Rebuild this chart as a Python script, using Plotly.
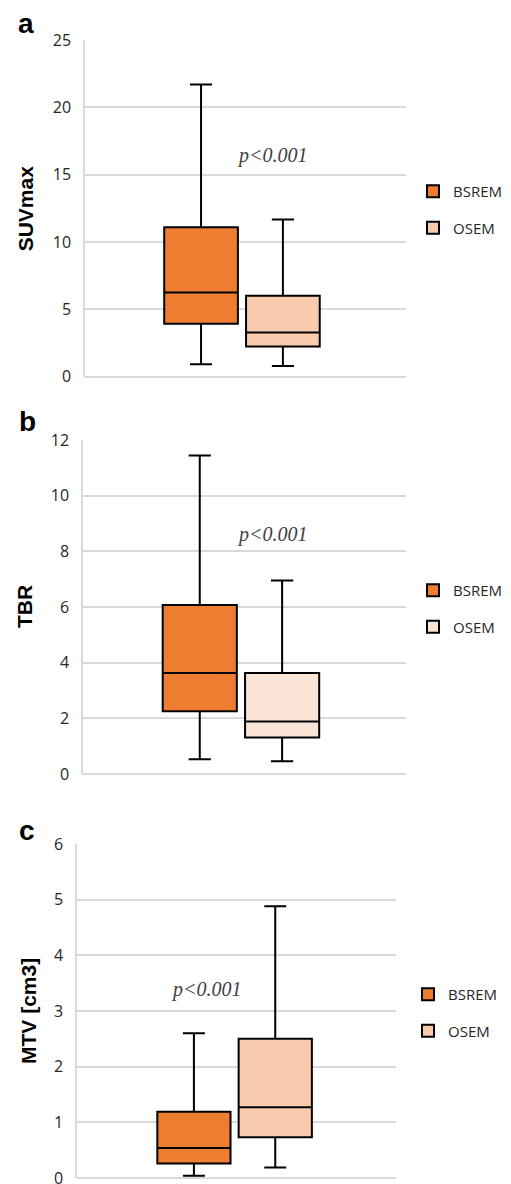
import plotly.graph_objects as go

# ---------------- data (min, q1, median, q3, max) ----------------
category = ["Lesions"]
series_names = ["BSREM", "OSEM"]

suv_bsrem = [0.92, 3.94, 6.26, 11.09, 21.7]
suv_osem = [0.79, 2.25, 3.29, 6.01, 11.68]

tbr_bsrem = [0.53, 2.25, 3.63, 6.07, 11.44]
tbr_osem = [0.46, 1.31, 1.89, 3.63, 6.95]

mtv_bsrem = [0.04, 0.26, 0.54, 1.19, 2.60]
mtv_osem = [0.19, 0.73, 1.27, 2.50, 4.88]

panel_letters = ["a", "b", "c"]
y_titles = ["SUVmax", "TBR", "MTV [cm3]"]
y_ranges = [[0, 25], [0, 12], [0, 6]]
y_dticks = [5, 2, 1]
p_text = "p&lt;0.001"
p_y = [16.4, 8.6, 3.38]

# ---------------- style ----------------
W, H = 511, 1184
OFF = 8  # page body margin offset of the figure in the browser
ORANGE = "#ED7D31"
LIGHT = ["#F8CBAD", "#FBE5D6", "#F8CBAD"]
GRID = "#D9D9D9"
TXT = "#262626"


def fx(p):
    return (p - OFF) / W


def fy(p):
    return 1 - (p - OFF) / H


# panel geometry in screen pixels: (x0, x1, ytop, ybottom)
geom = [(85, 406, 40, 376.7), (83, 406, 440, 774), (77, 396, 844, 1178)]
x_shift = [0.011, 0.011, 0.006]
legend_px = [(413, 175), (413, 574), (408, 978)]  # screen px (left, top)
p_x_px = [272, 272, 206]
title_x_px = [25, 24, 28]
letter_pos = [(26, 23), (27, 421), (27, 830)]

data_sets = [(suv_bsrem, suv_osem), (tbr_bsrem, tbr_osem), (mtv_bsrem, mtv_osem)]

fig = go.Figure()
layout = {}
annotations = []
for i, ((b, o), (x0, x1, yt, yb)) in enumerate(zip(data_sets, geom)):
    n = "" if i == 0 else str(i + 1)
    leg = "legend" + n
    for name, vals, color in [(series_names[0], b, ORANGE), (series_names[1], o, LIGHT[i])]:
        fig.add_trace(go.Box(
            name=name, x=category,
            lowerfence=[vals[0]], q1=[vals[1]], median=[vals[2]], q3=[vals[3]], upperfence=[vals[4]],
            fillcolor=color, line=dict(color="black", width=2),
            whiskerwidth=0.3, boxpoints=False,
            xaxis="x" + n, yaxis="y" + n, legend=leg, legendgroup=name + n,
            offsetgroup=name, alignmentgroup="panel" + str(i),
            hoverinfo="skip",
        ))
    layout["xaxis" + n] = dict(domain=[fx(x0), fx(x1)], anchor="y" + n, showgrid=False,
                               range=[-0.5 + x_shift[i], 0.5 + x_shift[i]], automargin=False,
                               showticklabels=False, showline=False, zeroline=False, ticks="")
    layout["yaxis" + n] = dict(domain=[fy(yb), fy(yt)], anchor="x" + n,
                               range=y_ranges[i], dtick=y_dticks[i], showgrid=True, automargin=False,
                               gridcolor=GRID, gridwidth=1.5, showline=True, linecolor=GRID,
                               linewidth=1.5, zeroline=True, zerolinecolor=GRID, zerolinewidth=1.5,
                               ticks="", ticklabelstandoff=9,
                               tickfont=dict(family="Open Sans", size=16, color=TXT))
    lx, ly = legend_px[i]
    layout[leg] = dict(x=fx(lx), y=fy(ly), xanchor="left", yanchor="top",
                       font=dict(family="Open Sans", size=15, color=TXT),
                       tracegroupgap=14, bgcolor="rgba(0,0,0,0)", traceorder="grouped")
    annotations.append(dict(text="<i>" + p_text + "</i>", xref="paper", yref="y" + n,
                            x=fx(p_x_px[i]), y=p_y[i],
                            showarrow=False, xanchor="center", yanchor="middle",
                            font=dict(family="Liberation Serif", size=20, color="#404040")))
    annotations.append(dict(text="<b>" + y_titles[i] + "</b>", xref="paper", yref="paper",
                            x=fx(title_x_px[i]), y=fy((yt + yb) / 2), textangle=-90,
                            showarrow=False, xanchor="center", yanchor="middle",
                            font=dict(family="Liberation Sans", size=21, color="black")))
    lxp, lyp = letter_pos[i]
    annotations.append(dict(text="<b>" + panel_letters[i] + "</b>", xref="paper", yref="paper",
                            x=fx(lxp), y=fy(lyp), showarrow=False, xanchor="center",
                            yanchor="middle", font=dict(family="Liberation Sans", size=28, color="black")))

fig.update_layout(**layout)
fig.update_layout(
    width=W, height=H, margin=dict(l=0, r=0, t=0, b=0, autoexpand=False), autosize=False,
    paper_bgcolor="white", plot_bgcolor="white",
    boxmode="group", boxgap=0.49, boxgroupgap=0.1,
    showlegend=True, annotations=annotations,
)
fig.write_html("out.html")
